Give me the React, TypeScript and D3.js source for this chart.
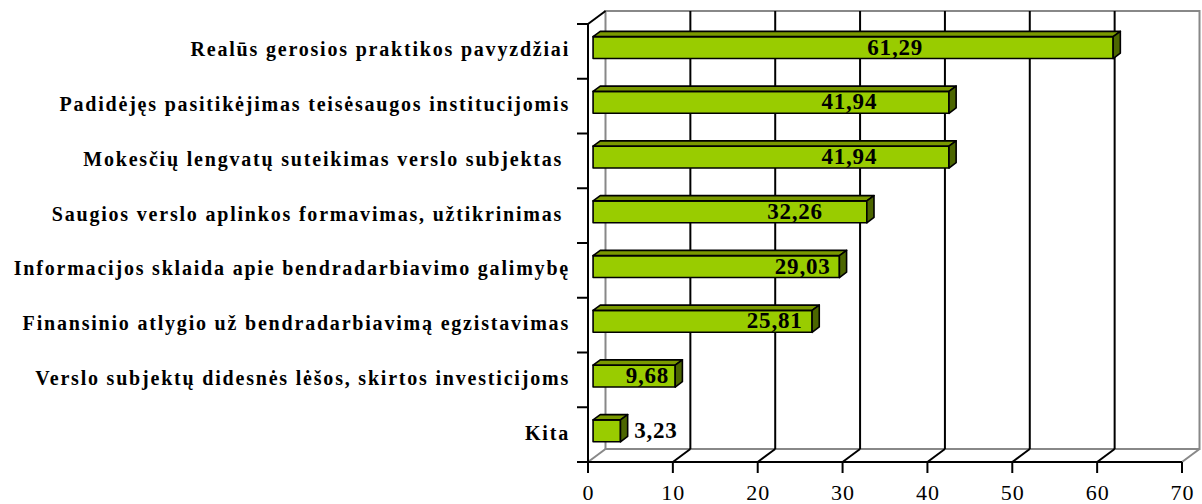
import * as d3 from 'd3';
import React from 'react';

// answers, top to bottom (trailing spaces are in the original labels)
const categories = [
  'Realūs gerosios praktikos pavyzdžiai',
  'Padidėjęs pasitikėjimas teisėsaugos institucijomis',
  'Mokesčių lengvatų suteikimas verslo subjektas ',
  'Saugios verslo aplinkos formavimas, užtikrinimas ',
  'Informacijos sklaida apie bendradarbiavimo galimybę',
  'Finansinio atlygio už bendradarbiavimą egzistavimas',
  'Verslo subjektų didesnės lėšos, skirtos investicijoms',
  'Kita'
];
const values = [61.29, 41.94, 41.94, 32.26, 29.03, 25.81, 9.68, 3.23];
const valueLabels = ['61,29', '41,94', '41,94', '32,26', '29,03', '25,81', '9,68', '3,23'];
// where excel dropped each value label (axis units)
const valueLabelAt = [35.6, 30.2, 30.2, 23.8, 24.7, 21.4, 6.4, 7.4];
const xTicks = [0, 10, 20, 30, 40, 50, 60, 70];

const DX = 17.5; // depth of the 3d box
const DY = 13;

export default function App() {
  const x = d3.scaleLinear().domain([0, 70]).range([588, 1182]);
  const y = d3.scaleBand<string>().domain(categories).range([24, 462]).paddingInner(0.6).paddingOuter(0.3);
  const step = y.step();
  const h = y.bandwidth();
  const d1 = 0.29;
  const d2 = 0.7;
  const grey = '#888888';
  const serif = '"Liberation Serif", "Times New Roman", serif';

  const bx = x(0) + DX;
  const by = 24 - DY;

  return (
    <svg width={1202} height={504} style={{ position: 'absolute', left: 0, top: 0, background: '#fff' }}>
      {/* back wall */}
      <rect x={bx} y={by} width={x(70) - x(0)} height={462 - 24} fill="#fff" stroke={grey} strokeWidth={2} />
      {xTicks.slice(1, -1).map((t) => (
        <g key={'g' + t} stroke="#000" strokeWidth={2}>
          <line x1={x(t) + DX} x2={x(t) + DX} y1={by} y2={462 - DY} />
          <line x1={x(t)} x2={x(t) + DX} y1={462} y2={462 - DY} />
        </g>
      ))}
      <line x1={x(0)} x2={bx} y1={462} y2={462 - DY} stroke={grey} strokeWidth={2} />
      <line x1={x(70)} x2={x(70) + DX} y1={462} y2={462 - DY} stroke={grey} strokeWidth={2} />
      <line x1={x(0)} x2={bx} y1={24} y2={by} stroke="#000" strokeWidth={2} />

      {/* bars */}
      {categories.map((c, i) => {
        const y0 = y(c)!;
        const xa = x(0) + DX * d1;
        const xb = x(values[i]) + DX * d1;
        const ft = y0 - DY * d1;
        const fb = ft + h;
        const ox = DX * (d2 - d1);
        const oy = DY * (d2 - d1);
        return (
          <g key={c} stroke="#000" strokeWidth={1.6} strokeLinejoin="round">
            <rect x={xa} y={ft} width={xb - xa} height={h} fill="#99cc00" />
            <polygon points={`${xa},${ft} ${xb},${ft} ${xb + ox},${ft - oy} ${xa + ox},${ft - oy}`} fill="#7a9900" />
            <polygon points={`${xb},${ft} ${xb + ox},${ft - oy} ${xb + ox},${fb - oy} ${xb},${fb}`} fill="#4c6600" />
          </g>
        );
      })}

      {/* value labels */}
      {valueLabels.map((l, i) => (
        <text
          key={'v' + i}
          x={x(valueLabelAt[i]) + DX * d1}
          y={y(categories[i])! - DY * d1 + h - 4}
          textAnchor="middle"
          fontFamily={serif}
          fontWeight="bold"
          fontSize={23}
          letterSpacing={0.8}
          fill="#000"
        >
          {l}
        </text>
      ))}

      {/* front axes */}
      <line x1={x(0)} x2={x(0)} y1={24} y2={462} stroke="#000" strokeWidth={2} />
      <line x1={577} x2={x(70)} y1={462} y2={462} stroke="#000" strokeWidth={2} />
      {d3.range(categories.length).map((i) => (
        <line key={'t' + i} x1={577} x2={x(0)} y1={24 + i * step} y2={24 + i * step} stroke="#000" strokeWidth={2} />
      ))}
      {xTicks.map((t) => (
        <g key={'x' + t}>
          <line x1={x(t)} x2={x(t)} y1={462} y2={473} stroke="#000" strokeWidth={2} />
          <text x={x(t) + 0.5} y={500} textAnchor="middle" fontFamily={serif} fontSize={22} letterSpacing={1} fill="#000">
            {t}
          </text>
        </g>
      ))}

      {/* category labels */}
      {categories.map((c) => (
        <text
          key={'c' + c}
          x={570}
          y={y(c)! + h / 2 + 5}
          textAnchor="end"
          fontFamily={serif}
          fontWeight="bold"
          fontSize={20}
          letterSpacing={1.8}
          style={{ whiteSpace: 'pre' }}
          fill="#000"
        >
          {c}
        </text>
      ))}
    </svg>
  );
}
